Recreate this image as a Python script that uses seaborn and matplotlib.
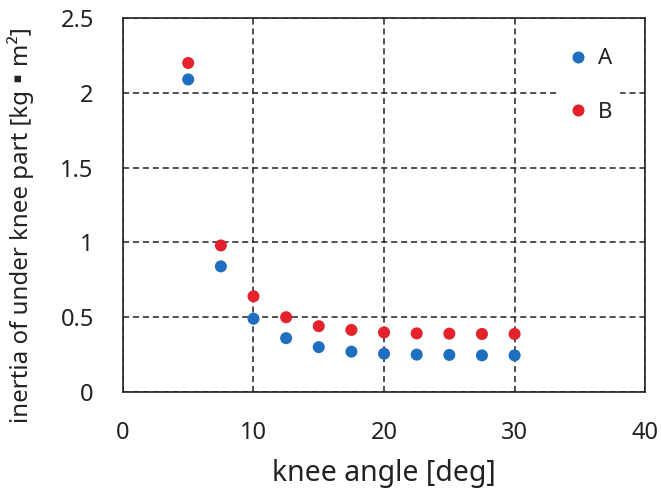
import matplotlib
matplotlib.use("Agg")
import matplotlib.pyplot as plt
import matplotlib.ticker as mticker
import seaborn as sns
import pandas as pd

angles = [5, 7.5, 10, 12.5, 15, 17.5, 20, 22.5, 25, 27.5, 30]
series_a = [2.09, 0.84, 0.49, 0.36, 0.30, 0.27, 0.256, 0.250, 0.248, 0.245, 0.245]
series_b = [2.20, 0.98, 0.64, 0.50, 0.44, 0.415, 0.398, 0.392, 0.390, 0.388, 0.388]
labels = ["A", "B"]
colors = {"A": "#1f6fc1", "B": "#e3222b"}

df = pd.DataFrame({
    "angle": angles * 2,
    "inertia": series_a + series_b,
    "series": [labels[0]] * len(angles) + [labels[1]] * len(angles),
})

sns.set_theme(style="white")
plt.rcParams["font.family"] = ["Noto Sans", "Noto Sans CJK JP", "DejaVu Sans"]

fig = plt.figure(figsize=(6.61, 4.90), dpi=100)
ax = fig.add_axes([0.186, 0.2, 0.79, 0.763])

sns.scatterplot(data=df, x="angle", y="inertia", hue="series", palette=colors,
                s=75, linewidth=0, ax=ax, zorder=3)

ax.set_xlim(0, 40)
ax.set_ylim(0, 2.5)
ax.set_xticks([0, 10, 20, 30, 40])
ax.set_yticks([0, 0.5, 1, 1.5, 2, 2.5])
ax.yaxis.set_major_formatter(mticker.FuncFormatter(lambda v, p: f"{v:g}"))
ax.tick_params(axis="x", labelsize=17, length=0, pad=21, colors="#222222")
ax.tick_params(axis="y", labelsize=17, length=0, pad=21, colors="#222222")
ax.grid(True, color="#222222", linestyle=(0, (4, 2.5)), linewidth=1.1, zorder=1)
ax.set_axisbelow(True)
for sp in ax.spines.values():
    sp.set_color("#222222")
    sp.set_linewidth(1.2)

ax.set_xlabel("knee angle [deg]", fontsize=20.5, color="#222222", labelpad=10)
ax.set_ylabel("inertia of under knee part [kg▪m²]", fontsize=17.3, color="#222222")
ax.yaxis.set_label_coords(-0.17, 0.447)

leg = ax.legend(title=None, loc="upper right", bbox_to_anchor=(0.952, 0.94),
                fontsize=16, frameon=True, framealpha=1, edgecolor="none",
                facecolor="white", handlelength=1.0, handletextpad=0.4,
                labelspacing=1.45, markerscale=1.0, borderpad=0.35,
                borderaxespad=0)
leg.set_zorder(5)
for t in leg.get_texts():
    t.set_color("#222222")

fig.savefig("out.png", dpi=100)
